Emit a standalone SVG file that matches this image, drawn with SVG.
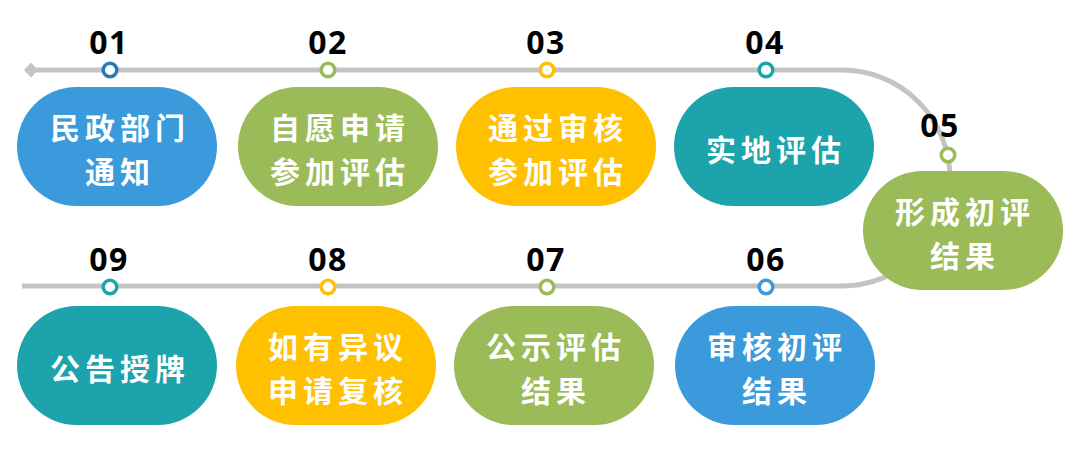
<svg xmlns="http://www.w3.org/2000/svg" width="1080" height="474" viewBox="0 0 1080 474">
<style>
.track{fill:none;stroke:#C4C4C4;stroke-width:5}
.dot{fill:#fff;stroke-width:3.5}
.num{font-family:"Open Sans","Liberation Sans",sans-serif;font-weight:700;font-size:32px;fill:#000;text-anchor:middle;letter-spacing:1.5px}
.lbl{font-family:"Noto Sans CJK SC","Noto Sans",sans-serif;font-weight:700;font-size:30px;fill:#fff;text-anchor:middle;letter-spacing:5px}
.blue{fill:#3A9ADB}.green{fill:#9BBB59}.yellow{fill:#FFC000}.teal{fill:#1CA3AC}
</style>
<rect width="1080" height="474" fill="#fff"/>
<g id="connectors">
<path class="track" d="M32,70 H842 A108,108 0 0 1 842,286 H22"/>
<path d="M24,70 L31,62.5 L38,70 L31,77.5 Z" fill="#C4C4C4"/>
</g>
<g id="n01"><rect class="blue" x="17" y="87" width="200" height="119" rx="59.5"/><text class="lbl" x="120" y="139">民政部门</text><text class="lbl" x="120" y="183">通知</text><text class="num" x="109" y="54">01</text><circle class="dot" cx="110" cy="70" r="6.8" stroke="#2A78B4"/></g>
<g id="n02"><rect class="green" x="238" y="87" width="200" height="119" rx="59.5"/><text class="lbl" x="340" y="139">自愿申请</text><text class="lbl" x="340" y="183">参加评估</text><text class="num" x="328" y="54">02</text><circle class="dot" cx="328" cy="70" r="6.8" stroke="#9BBB59"/></g>
<g id="n03"><rect class="yellow" x="456" y="87" width="200" height="119" rx="59.5"/><text class="lbl" x="558" y="139">通过审核</text><text class="lbl" x="558" y="183">参加评估</text><text class="num" x="546" y="54">03</text><circle class="dot" cx="547" cy="70" r="6.8" stroke="#FFC000"/></g>
<g id="n04"><rect class="teal" x="674" y="87" width="200" height="119" rx="59.5"/><text class="lbl" x="776" y="161">实地评估</text><text class="num" x="765" y="54">04</text><circle class="dot" cx="766" cy="70" r="6.8" stroke="#1CA3AC"/></g>
<g id="n05"><rect class="green" x="863" y="171" width="200" height="119" rx="59.5"/><text class="lbl" x="965" y="223">形成初评</text><text class="lbl" x="965" y="267">结果</text><text class="num" x="940" y="137">05</text><circle class="dot" cx="948" cy="155" r="6.8" stroke="#9BBB59"/></g>
<g id="n06"><rect class="blue" x="675" y="306" width="200" height="119" rx="59.5"/><text class="lbl" x="777" y="358">审核初评</text><text class="lbl" x="777" y="402">结果</text><text class="num" x="766" y="271">06</text><circle class="dot" cx="766" cy="287" r="6.8" stroke="#3A9ADB"/></g>
<g id="n07"><rect class="green" x="454" y="306" width="200" height="119" rx="59.5"/><text class="lbl" x="556" y="358">公示评估</text><text class="lbl" x="556" y="402">结果</text><text class="num" x="546" y="271">07</text><circle class="dot" cx="547" cy="287" r="6.8" stroke="#9BBB59"/></g>
<g id="n08"><rect class="yellow" x="236" y="306" width="200" height="119" rx="59.5"/><text class="lbl" x="338" y="358">如有异议</text><text class="lbl" x="338" y="402">申请复核</text><text class="num" x="328" y="271">08</text><circle class="dot" cx="328" cy="287" r="6.8" stroke="#FFC000"/></g>
<g id="n09"><rect class="teal" x="17" y="306" width="200" height="119" rx="59.5"/><text class="lbl" x="120" y="380">公告授牌</text><text class="num" x="109" y="271">09</text><circle class="dot" cx="110" cy="287" r="6.8" stroke="#1CA3AC"/></g>
</svg>
